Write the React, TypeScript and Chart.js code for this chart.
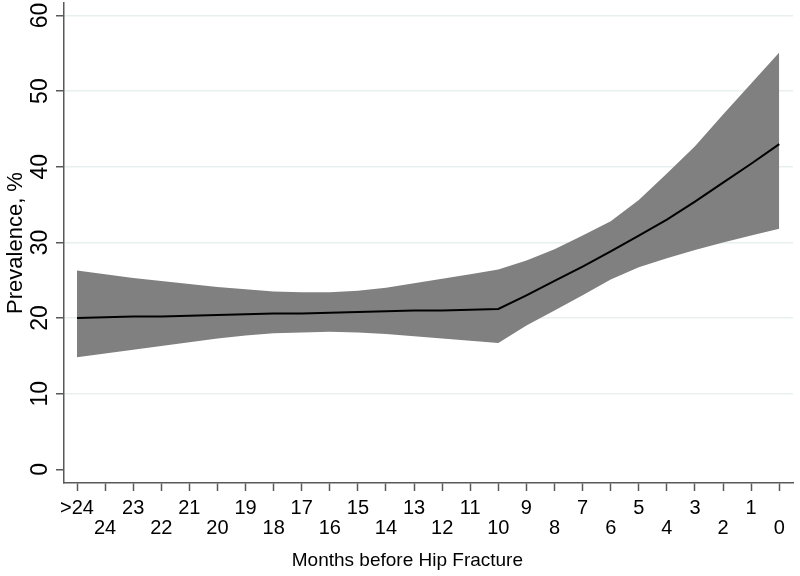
import React, { useEffect, useRef } from 'react';
import { Chart, registerables } from 'chart.js';

Chart.register(...registerables);

const categories = ['>24', '24', '23', '22', '21', '20', '19', '18', '17', '16', '15', '14', '13', '12', '11', '10', '9', '8', '7', '6', '5', '4', '3', '2', '1', '0'];

const meanPrevalence = [20.0, 20.1, 20.2, 20.2, 20.3, 20.4, 20.5, 20.6, 20.6, 20.7, 20.8, 20.9, 21.0, 21.0, 21.1, 21.2, 23.0, 24.9, 26.8, 28.8, 30.9, 33.0, 35.4, 37.9, 40.4, 43.0];

const upperCI = [26.3, 25.8, 25.3, 24.9, 24.5, 24.1, 23.8, 23.5, 23.4, 23.4, 23.6, 24.0, 24.6, 25.2, 25.8, 26.4, 27.6, 29.1, 30.9, 32.8, 35.6, 39.1, 42.7, 46.9, 51.0, 55.1];

const lowerCI = [14.8, 15.3, 15.8, 16.3, 16.8, 17.3, 17.7, 18.0, 18.1, 18.2, 18.1, 17.9, 17.6, 17.3, 17.0, 16.7, 19.0, 21.0, 23.0, 25.1, 26.7, 27.9, 29.0, 30.0, 30.9, 31.8];

const yTicks = [0, 10, 20, 30, 40, 50, 60];

const FONT = '"Liberation Sans", Arial, Helvetica, sans-serif';
const AXIS = '#595959';

export default function App() {
  const ref = useRef<HTMLCanvasElement>(null);

  useEffect(() => {
    document.body.style.margin = '0';
    const canvas = ref.current;
    if (!canvas) return;
    const toXY = (arr: number[]) => arr.map((v, i) => ({ x: i, y: v }));
    const chart = new Chart(canvas, {
      type: 'line',
      data: {
        datasets: [
          {
            label: 'Prevalence',
            data: toXY(meanPrevalence),
            borderColor: '#000000',
            borderWidth: 2,
            pointRadius: 0,
            tension: 0,
            fill: false,
          },
          {
            label: 'Upper 95% CI',
            data: toXY(upperCI),
            borderColor: 'rgba(0,0,0,0)',
            borderWidth: 0,
            pointRadius: 0,
            tension: 0,
            fill: false,
          },
          {
            label: 'Lower 95% CI',
            data: toXY(lowerCI),
            borderColor: 'rgba(0,0,0,0)',
            backgroundColor: '#808080',
            borderWidth: 0,
            pointRadius: 0,
            tension: 0,
            fill: '-1',
          },
        ],
      },
      options: {
        animation: false,
        responsive: false,
        layout: { padding: { top: 3, right: 7, left: 0, bottom: 0 } },
        plugins: {
          legend: { display: false },
          tooltip: { enabled: false },
        },
        scales: {
          x: {
            type: 'linear',
            min: -0.463,
            max: 25.49,
            afterBuildTicks: (s: any) => {
              s.ticks = categories.map((_, i) => ({ value: i }));
            },
            afterFit: (s: any) => {
              s.height = 93;
              s.paddingLeft = 0;
              s.paddingRight = 0;
            },
            ticks: {
              autoSkip: false,
              maxRotation: 0,
              minRotation: 0,
              padding: 7,
              color: '#000000',
              font: { family: FONT, size: 20, lineHeight: 1 },
              callback: (v: any) => {
                const i = Math.round(Number(v));
                const lab = categories[i] ?? '';
                return i % 2 === 0 ? [lab, ''] : ['', lab];
              },
            },
            grid: {
              drawOnChartArea: false,
              drawTicks: true,
              tickLength: 8,
              tickColor: AXIS,
              tickWidth: 1.5,
            },
            border: { color: AXIS, width: 1.5 },
            title: {
              display: true,
              text: 'Months before Hip Fracture\u00a0\u00a0\u00a0\u00a0\u00a0\u00a0\u00a0\u00a0',
              color: '#000000',
              font: { family: FONT, size: 19, lineHeight: 1.2 },
              padding: { top: 0, bottom: 4 },
            },
          },
          y: {
            type: 'linear',
            min: -1.81,
            max: 61.65,
            afterBuildTicks: (s: any) => {
              s.ticks = yTicks.map((v) => ({ value: v }));
            },
            afterFit: (s: any) => {
              s.width = 64;
              s.paddingTop = 0;
              s.paddingBottom = 0;
            },
            ticks: {
              minRotation: 90,
              maxRotation: 90,
              crossAlign: 'center',
              padding: 3,
              color: '#000000',
              font: { family: FONT, size: 23 },
            },
            grid: {
              color: (c: any) => (c.tick && c.tick.value === 0 ? 'rgba(0,0,0,0)' : '#e8efef'),
              lineWidth: 1.5,
              drawTicks: true,
              tickLength: 8,
              tickColor: AXIS,
              tickWidth: 1.5,
            },
            border: { color: AXIS, width: 1.5 },
            title: {
              display: true,
              text: 'Prevalence, %',
              color: '#000000',
              font: { family: FONT, size: 22, lineHeight: 1.2 },
              padding: { top: 3, bottom: 0 },
            },
          },
        },
      },
    } as any);
    return () => chart.destroy();
  }, []);

  return <canvas ref={ref} width={800} height={576} style={{ display: 'block' }} />;
}
